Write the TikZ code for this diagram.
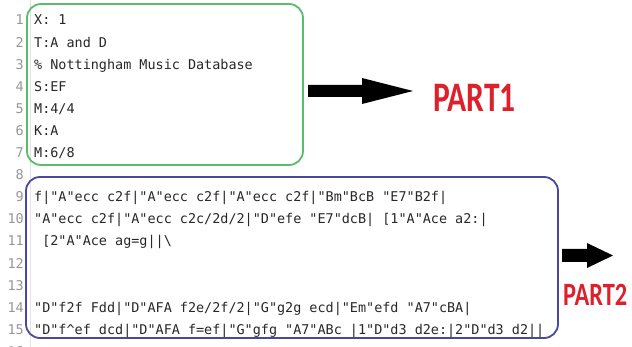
\documentclass[tikz,border=0pt]{standalone}
\usepackage{fontspec}
\setmonofont{DejaVu Sans Mono}
\newfontfamily\labelfont{Carlito}[FakeStretch=0.75]

\definecolor{codeink}{RGB}{40,40,40}
\definecolor{numink}{RGB}{150,150,150}
\definecolor{gutterline}{RGB}{226,226,226}
\definecolor{headgreen}{RGB}{88,190,108}
\definecolor{tuneblue}{RGB}{72,72,158}
\definecolor{partred}{RGB}{222,32,44}

\tikzset{
  codeline/.style={anchor=base west, inner sep=0pt, text=codeink,
    font=\ttfamily\fontsize{13.45}{16}\selectfont},
  lineno/.style={anchor=base east, inner sep=0pt, text=numink,
    font=\ttfamily\fontsize{13.45}{16}\selectfont},
  blockframe/.style={line width=1.8pt, rounded corners=14pt},
  blockarrow/.style={fill=black},
  partlabel/.style={anchor=base west, inner sep=0pt, text=partred,
    font=\labelfont\bfseries}
}

\begin{document}
\begin{tikzpicture}[x=1pt, y=-1pt]
\useasboundingbox[fill=white] (0,0) rectangle (632,347);

% editor gutter
\draw[gutterline, line width=0.8pt] (30,0) -- (30,347);
\foreach \k in {1,...,16}
  \node[lineno] (n\k) at (24, {25+(\k-1)*22.1}) {\k};

% header lines
\node[codeline] (c1) at (34, 25)    {X: 1};
\node[codeline] (c2) at (34, 47.1)  {T:A and D};
\node[codeline] (c3) at (34, 69.2)  {\% Nottingham Music Database};
\node[codeline] (c4) at (34, 91.3)  {S:EF};
\node[codeline] (c5) at (34, 113.4) {M:4/4};
\node[codeline] (c6) at (34, 135.5) {K:A};
\node[codeline] (c7) at (34, 157.6) {M:6/8};

% tune body
\node[codeline] (c9)  at (34, 201.8) {f|"A"ecc c2f|"A"ecc c2f|"A"ecc c2f|"Bm"BcB "E7"B2f|};
\node[codeline] (c10) at (34, 223.9) {"A"ecc c2f|"A"ecc c2c/2d/2|"D"efe "E7"dcB| [1"A"Ace a2:|};
\node[codeline] (c11) at (42.1, 246) {[2"A"Ace ag=g||\textbackslash};
\node[codeline] (c14) at (34, 312.3) {"D"f2f Fdd|"D"AFA f2e/2f/2|"G"g2g ecd|"Em"efd "A7"cBA|};
\node[codeline] (c15) at (34, 334.4) {"D"f\textasciicircum ef dcd|"D"AFA f=ef|"G"gfg "A7"ABc |1"D"d3 d2e:|2"D"d3 d2||};

% frames around the two parts
\draw[blockframe, headgreen] (27,4) rectangle (303,165);
\draw[blockframe, tuneblue]  (26,177) rectangle (558,338);

% block arrows
\fill[blockarrow] (308,85) -- (362,85) -- (362,78) -- (413,91)
  -- (362,104) -- (362,97) -- (308,97) -- cycle;
\fill[blockarrow] (562,249) -- (587,249) -- (587,243) -- (613,255.5)
  -- (587,268) -- (587,262) -- (562,262) -- cycle;

% labels
\node[partlabel, font=\labelfont\bfseries\fontsize{42}{44}\selectfont] (p1) at (433,112) {PART1};
\node[partlabel, font=\labelfont\bfseries\fontsize{32.5}{34}\selectfont] (p2) at (563,306) {PART2};
\end{tikzpicture}
\end{document}
